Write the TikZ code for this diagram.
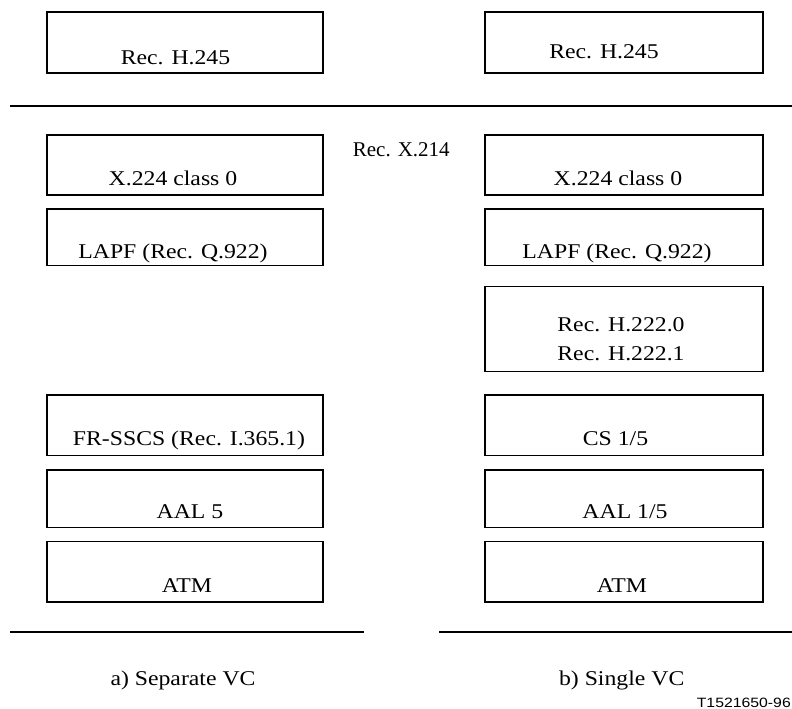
\documentclass[tikz,border=0pt]{standalone}
\usepackage{fontspec}
\usepackage{graphicx}
\setmainfont{Liberation Serif}
\newfontfamily\labsans{Liberation Sans}
\newcommand{\tx}[1]{\scalebox{1.13}[1]{#1}}
\begin{document}
\begin{tikzpicture}[x=1pt,y=-1pt,
  box/.style={draw, line width=1.3pt, inner sep=0pt, outer sep=0pt, rectangle},
  lbl/.style={anchor=base, inner sep=0pt, font=\fontsize{21}{25}\selectfont},
  rule/.style={line width=1.3pt}]
\useasboundingbox (0,0) rectangle (792,709);
% left column boxes
\node[box, minimum width=276pt, minimum height=61pt]   (lH)  at (185,42.5) {};
\node[box, minimum width=276pt, minimum height=60pt]   (lX)  at (185,165) {};
\node[box, minimum width=276pt, minimum height=56.5pt] (lL)  at (185,237.25) {};
\node[box, minimum width=276pt, minimum height=60.7pt] (lF)  at (185,425.3) {};
\node[box, minimum width=276pt, minimum height=57.7pt] (lA)  at (185,498.8) {};
\node[box, minimum width=276pt, minimum height=60.3pt] (lT)  at (185,571.8) {};
% right column boxes
\node[box, minimum width=278pt, minimum height=61pt]   (rH)  at (624,42.5) {};
\node[box, minimum width=278pt, minimum height=60pt]   (rX)  at (624,165) {};
\node[box, minimum width=278pt, minimum height=56.5pt] (rL)  at (624,237.25) {};
\node[box, minimum width=278pt, minimum height=85pt]   (rP)  at (624,329.2) {};
\node[box, minimum width=278pt, minimum height=60.7pt] (rC)  at (624,425.3) {};
\node[box, minimum width=278pt, minimum height=57.7pt] (rA)  at (624,498.8) {};
\node[box, minimum width=278pt, minimum height=60.3pt] (rT)  at (624,571.8) {};
% rules
\coordinate (t1) at (10,106);
\coordinate (t2) at (792,106);
\coordinate (b1) at (10,632);
\coordinate (b2) at (364,632);
\coordinate (b3) at (439,632);
\coordinate (b4) at (792,632);
\draw[rule] (t1) -- (t2);
\draw[rule] (b1) -- (b2);
\draw[rule] (b3) -- (b4);
% labels left
\node[lbl] (tlH) at (175.5,65) {\tx{Rec. H.245}};
\node[lbl] (tlX) at (173,185) {\tx{X.224 class 0}};
\node[lbl] (tlL) at (173,258) {\tx{LAPF (Rec. Q.922)}};
\node[lbl] (tlF) at (189,445) {\tx{FR-SSCS (Rec. I.365.1)}};
\node[lbl] (tlA) at (190,518) {\tx{AAL 5}};
\node[lbl] (tlT) at (187,592) {\tx{ATM}};
% labels right
\node[lbl] (trH) at (604,58.5) {\tx{Rec. H.245}};
\node[lbl] (trX) at (618,185) {\tx{X.224 class 0}};
\node[lbl] (trL) at (617,258) {\tx{LAPF (Rec. Q.922)}};
\node[lbl] (trP1) at (621,331.7) {\tx{Rec. H.222.0}};
\node[lbl] (trP2) at (621,360) {\tx{Rec. H.222.1}};
\node[lbl] (trC) at (615.5,445) {\tx{CS 1/5}};
\node[lbl] (trA) at (625,518) {\tx{AAL 1/5}};
\node[lbl] (trT) at (622,592) {\tx{ATM}};
% other texts
\node[lbl, anchor=base west] (x214) at (352.7,156) {Rec. X.214};
\node[lbl] (capa) at (183,685) {\tx{a) Separate VC}};
\node[lbl] (capb) at (621.7,685) {\tx{b) Single VC}};
\node[anchor=base east, inner sep=0pt, font=\labsans\fontsize{13.5}{16}\selectfont] (code) at (791,707) {\scalebox{1.17}[1]{T1521650-96}};
\end{tikzpicture}
\end{document}
